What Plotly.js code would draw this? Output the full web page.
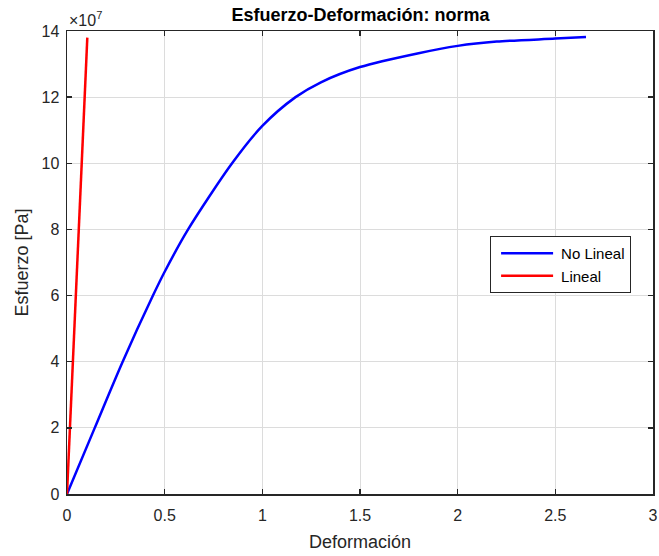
<!DOCTYPE html>
<html>
<head>
<meta charset="utf-8">
<script src="https://cdn.plot.ly/plotly-3.0.1.min.js"></script>
<style>
  html, body { margin: 0; padding: 0; background: #ffffff; }
  #chart { width: 659px; height: 556px; }
</style>
</head>
<body>
<div id="chart"></div>
<script>
// Stress-strain curves: nonlinear material model vs. linear elastic model
const strainNoLineal = [0, 0.142, 0.285, 0.44, 0.5, 0.62, 0.845, 1.0, 1.17,
                        1.3, 1.5, 1.8, 2.0, 2.2, 2.5, 2.657];
const stressNoLineal = [0, 2.0e7, 4.0e7, 6.0e7, 6.72e7, 8.0e7, 10.0e7, 11.13e7, 12.0e7,
                        12.45e7, 12.91e7, 13.33e7, 13.55e7, 13.68e7, 13.77e7, 13.82e7];

const strainLineal = [0, 0.104];
const stressLineal = [0, 13.8e7];

const xTickVals = [0, 0.5, 1, 1.5, 2, 2.5, 3];
const xTickText = ['0', '0.5', '1', '1.5', '2', '2.5', '3'];
const yTickVals = [0, 2e7, 4e7, 6e7, 8e7, 10e7, 12e7, 14e7];
const yTickText = ['0', '2', '4', '6', '8', '10', '12', '14'];

const seriesNames = ['No Lineal', 'Lineal'];

const axisColor = '#262626';
const fontFamily = 'Liberation Sans, Arial, Helvetica, sans-serif';

const traces = [
  {
    x: strainNoLineal, y: stressNoLineal, name: seriesNames[0],
    type: 'scatter', mode: 'lines',
    line: { color: '#0000ff', width: 2.5, shape: 'spline', smoothing: 0.8 }
  },
  {
    x: strainLineal, y: stressLineal, name: seriesNames[1],
    type: 'scatter', mode: 'lines',
    line: { color: '#ff0000', width: 2.5 }
  }
];

const axisCommon = {
  showline: true, linecolor: axisColor, linewidth: 1.5, mirror: 'ticks',
  ticks: 'inside', ticklen: 5, tickwidth: 1.5, tickcolor: axisColor,
  showgrid: true, gridcolor: '#dcdcdc', gridwidth: 1,
  zeroline: false,
  tickfont: { family: fontFamily, size: 16, color: axisColor }
};

const layout = {
  width: 659, height: 556,
  margin: { l: 67, r: 6, t: 31, b: 62 },
  paper_bgcolor: '#ffffff', plot_bgcolor: '#ffffff',
  font: { family: fontFamily, color: axisColor },
  title: {
    text: '<b>Esfuerzo-Deformación: norma</b>',
    font: { family: fontFamily, size: 18, color: '#000000' },
    x: 0.547, xanchor: 'center', y: 0.973, yanchor: 'middle'
  },
  xaxis: Object.assign({}, axisCommon, {
    range: [0, 3], tickmode: 'array', tickvals: xTickVals, ticktext: xTickText,
    ticklabelstandoff: 6,
    title: { text: 'Deformación', font: { family: fontFamily, size: 18, color: axisColor }, standoff: 12 }
  }),
  yaxis: Object.assign({}, axisCommon, {
    range: [0, 14e7], tickmode: 'array', tickvals: yTickVals, ticktext: yTickText,
    ticklabelstandoff: 3,
    title: { text: 'Esfuerzo [Pa]', font: { family: fontFamily, size: 18, color: axisColor }, standoff: 8 }
  }),
  showlegend: true,
  legend: {
    x: 0.722, y: 0.557, xanchor: 'left', yanchor: 'top',
    bgcolor: '#ffffff', bordercolor: axisColor, borderwidth: 1,
    font: { family: fontFamily, size: 15, color: '#000000' },
    itemwidth: 60, tracegroupgap: 0
  },
  annotations: [
    {
      xref: 'paper', yref: 'paper', x: 0, y: 1, xanchor: 'left', yanchor: 'bottom',
      text: '×10<sup>7</sup>', showarrow: false,
      font: { family: fontFamily, size: 16, color: axisColor }
    }
  ]
};

Plotly.newPlot('chart', traces, layout, { displayModeBar: false, staticPlot: true }).then(function (gd) {
  // lengthen the legend line samples so they fill the wider item slot
  gd.querySelectorAll('.legendlines path').forEach(function (p) {
    p.setAttribute('d', 'M10,0h52');
  });
});
</script>
</body>
</html>
